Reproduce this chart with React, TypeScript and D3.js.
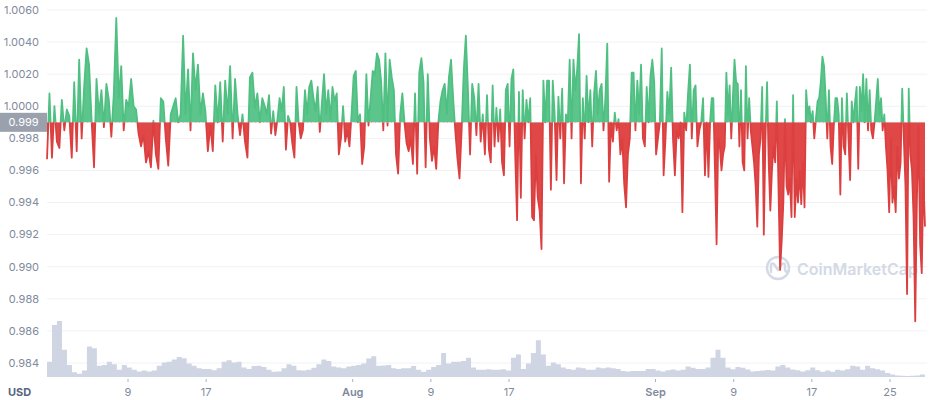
import React from "react";
import * as d3 from "d3";

// price offsets from 1.0000 USD, in units of 0.0001 (so -10 = 0.9990)
const julyA = [
  -33, 8, -32, 0, -22, -26, 4, -15, -2, -6,
  -32, 15, -28, 29, -20, 12, 36, 26, -8, -38,
  17, -5, 10, -13, 14, 4, -19, 8, 55, 5,
  25, -15, 4, 0, 17, 0, -2, -17, -25, -18,
  -35, -28, -38, -9, -30, -39, 5, 3, -20, -37,
  -5, 0, 5, -10, -5, 44, -5, 23, -15, 33,
  10, 26, -5, 8, -3, -28, -12, -28, 13, -10,
  15, -22, 16, -5, 25, -20, 17, -5, -18, -5,
  -22, -32, 18, 21, -1, 8, -10, 5,
];
const julyAug = [
  0, -5, 7, -17, -3, -18, -8, 5, -3, 12, -27, -6, -10, -23, -32, 12, -10, -20, -15, 10,
  -5, 12, 16, 5, -3, 12, -16, 2, 20, -5, 10, -8, 12, 3, 8, -30, -20, 0, -22, -15,
  -25, -5, 19, 22, -10, -5, -36, -25, 20, -12, 5, 22, 20, 33, 29, 15, -15, 33, -12, 29,
  18, 10, -30, -42, -5, 8, -10, -23, -28, -20, -36, 8, -42, 21, 30, 15, -38, 20, -20, -34,
  -25, -39, -10, 3, 10, 14, -5, 18, 29, 5, -15, -32, -45, -15, 22, 44, 10, -30, 14, 5,
  -18, 14, -22, -5, -30,
];
const augSep = [
  7, -27, -35, 13, -25, -1, -22, -2, -35, -43, 10, 14, -25, 17, 23, -30, -71, 9, -57, 10,
  -20, 4, -10, 5, -69, -71, -30, -57, -65, -89, 16, -10, 16, 16, -52, 16, -5, -46, 6, -20,
  11, -48, -5, -10, 29, -20, 29, 10, 23, 45, -48, 5, -20, 19, -10, 10, -25, 8, 22, -5,
  10, 14, -15, 5, 39, -47, -10, -22, -4, -15, -8, -30, -20, -48, -63, -30, -20, 21, 21, -15,
  16, -5, 26, -20, -25, 12, -10, 19, 29, 15, -30, -20, -10, 36, -43, -20, 9, -5, 24, -20,
  -43, -15, -20, -10, -66, -4, -15, 8, 26, -20, 10, 13, -25, -15, -10, 5, -43,
];
const september = [
  -10, -44, -10, 5, 5, -40, -86, -20, -25, -40, -30, -25, 21, -5, 13, -20, 5, 29, 15, 14,
  -25, 10, -35, -40, 25, -20, 5, -15, -25, -35, -50, -75, -30, -20, 12, -80, -20, 15, -35, -65,
  -40, -25, -35, 3, -50, -102, -84, -60, -8, -50, -55, -45, -69, 7, -69, -45, -60, -40, -61, -35,
  -63, 10, -5, 0, -10, -3, -20, -8, 3, 5, 15, 31, 25, 5, -20, 10, -25, -36, -12, 5,
  5, -5, -55, 5, -25, -30, 8, -20, -46, 3, -10, 2, 12, -39, 12, -3, 20, -10, 17, -15,
  10, -15, -20, -10, 3, 17, -5, 5, -15, -5, -25, -40, -66, -20, -60, -50, -66, -25, -45, -35,
  11, -20, -50, -117, 11, -30, -40, -70, -134, -60, -12, -86, -104, -45, -75,
];
const segments = [julyA, julyAug, augSep, september];
const segmentEdges = [
  new Date(2021, 5, 30, 17),
  new Date(2021, 6, 23, 0),
  new Date(2021, 7, 14, 18),
  new Date(2021, 8, 6, 6),
  new Date(2021, 8, 28, 14),
];

// 24h volume, billions USD (relative)
const volume = [
  0.95, 3.25, 3.5, 1.7, 0.75, 0.3, 0.2, 0.4, 1.9, 1.8, 0.7, 0.75, 0.95, 0.8, 0.45, 0.75, 0.6, 0.45, 0.35, 0.4,
  0.35, 0.4, 0.7, 0.9, 0.95, 1.1, 1.25, 1.17, 0.85, 0.7, 0.55, 0.5, 0.5, 0.42, 0.55, 0.95, 1.05, 0.9, 0.95, 0.6,
  0.5, 0.68, 0.7, 0.62, 0.45, 0.33, 0.35, 0.55, 0.8, 0.7, 0.42, 0.4, 0.45, 0.58, 0.8, 1.1, 1.0, 0.65, 0.6, 0.55,
  0.65, 0.7, 0.75, 0.85, 1.15, 1.3, 0.7, 0.72, 0.75, 0.55, 0.5, 0.55, 0.55, 0.68, 0.45, 0.33, 0.45, 0.62, 0.75, 1.5,
  0.85, 0.95, 0.95, 1.0, 1.2, 0.6, 0.45, 0.45, 0.48, 0.45, 0.45, 0.48, 0.4, 1.2, 1.4, 0.5, 0.85, 1.5, 2.3, 1.4,
  0.7, 0.9, 0.8, 0.6, 0.5, 0.45, 0.6, 0.55, 0.45, 0.45, 0.6, 0.55, 0.6, 0.55, 0.5, 0.38, 0.35, 0.38, 0.38, 0.38,
  0.5, 0.5, 0.4, 0.35, 0.42, 0.47, 0.4, 0.45, 0.65, 0.58, 0.5, 0.5, 0.6, 1.2, 1.7, 1.2, 0.6, 0.48, 0.62, 0.58,
  0.47, 0.35, 0.37, 0.4, 0.44, 0.4, 0.65, 0.75, 0.6, 0.47, 0.42, 0.35, 0.42, 0.6, 0.42, 0.33, 0.4, 0.33, 0.45, 0.4,
  0.48, 0.7, 0.65, 0.45, 0.7, 0.55, 0.48, 0.4, 0.25, 0.15, 0.1, 0.08, 0.06, 0.08, 0.1, 0.15, 0.2,
];

const yTicks = [1.006, 1.004, 1.002, 1.0, 0.998, 0.996, 0.994, 0.992, 0.99, 0.988, 0.986, 0.984];
const yLabels = ["1.0060", "1.0040", "1.0020", "1.0000", "0.998", "0.996", "0.994", "0.992", "0.990", "0.988", "0.986", "0.984"];
const xTicks = [
  new Date(2021, 6, 9), new Date(2021, 6, 17), new Date(2021, 7, 1),
  new Date(2021, 7, 9), new Date(2021, 7, 17), new Date(2021, 8, 1),
  new Date(2021, 8, 9), new Date(2021, 8, 17), new Date(2021, 8, 25),
];
const xLabels = ["9", "17", "Aug", "9", "17", "Sep", "9", "17", "25"];
const refPrice = 0.999;

type Pt = { t: Date; p: number };

const font = "Inter, 'Noto Sans', sans-serif";
const GREEN = "#5bc58c";
const RED = "#e04848";

export default function App() {
  const width = 938;
  const height = 400;
  const left = 47;
  const right = 925;

  const points: Pt[] = [];
  segments.forEach((arr, i) => {
    const a = +segmentEdges[i];
    const b = +segmentEdges[i + 1];
    const n = i === segments.length - 1 ? arr.length - 1 : arr.length;
    arr.forEach((v, k) => {
      points.push({ t: new Date(a + ((b - a) * k) / n), p: 1 + v / 10000 });
    });
  });

  const t0 = +segmentEdges[0];
  const t1 = +segmentEdges[segmentEdges.length - 1];
  const vol = volume.map((v, k) => ({
    t: new Date(t0 + ((t1 - t0) * k) / (volume.length - 1)),
    v,
  }));

  const x = d3.scaleTime().domain([segmentEdges[0], segmentEdges[4]]).range([left, right]);
  const y = d3.scaleLinear().domain([0.984, 1.006]).range([363, 10]);
  const yVol = d3.scaleLinear().domain([0, 4]).range([377, 313]);

  const baseY = y(refPrice);

  const area = d3
    .area<Pt>()
    .x((d) => x(d.t))
    .y0(baseY)
    .y1((d) => y(d.p));
  const line = d3
    .line<Pt>()
    .x((d) => x(d.t))
    .y((d) => y(d.p));
  const volArea = d3
    .area<{ t: Date; v: number }>()
    .x((d) => x(d.t))
    .y0(yVol(0))
    .y1((d) => yVol(d.v))
    .curve(d3.curveStepAfter);

  const areaD = area(points) ?? "";
  const lineD = line(points) ?? "";

  return (
    <div style={{ position: "absolute", left: 0, top: 0 }}>
      <svg width={width} height={height} style={{ display: "block", fontFamily: font }}>
        <defs>
          <clipPath id="above">
            <rect x={0} y={0} width={width} height={baseY} />
          </clipPath>
          <clipPath id="below">
            <rect x={0} y={baseY} width={width} height={height - baseY} />
          </clipPath>
        </defs>

        {yTicks.map((t, i) => (
          <line key={i} x1={left} x2={927} y1={y(t)} y2={y(t)} stroke="#eff2f5" strokeWidth={1} />
        ))}

        {/* watermark */}
        <g opacity={0.9}>
          <circle cx={778} cy={268} r={11} fill="none" stroke="#cfd6e4" strokeWidth={2.4} />
          <path
            d="M771,272 L771,266 Q771,262 774,264 L778,270 L782,264 Q785,262 785,266 L785,270 Q786,273 789,271"
            fill="none"
            stroke="#cfd6e4"
            strokeWidth={2.4}
            strokeLinecap="round"
            strokeLinejoin="round"
          />
          <text x={797} y={275} fontSize={16} fontWeight={600} fill="#cfd6e4">
            CoinMarketCap
          </text>
        </g>

        <path d={volArea(vol) ?? ""} fill="#cfd5e3" />

        <g clipPath="url(#above)">
          <path d={areaD} fill={GREEN} />
          <path d={lineD} fill="none" stroke="#4fbf82" strokeWidth={1.8} strokeLinejoin="round" />
        </g>
        <g clipPath="url(#below)">
          <path d={areaD} fill={RED} />
          <path d={lineD} fill="none" stroke="#dc3f3f" strokeWidth={1.8} strokeLinejoin="round" />
        </g>

        <line x1={left} x2={927} y1={baseY} y2={baseY} stroke="#a6b0c3" strokeWidth={1} strokeDasharray="1 3" opacity={0.7} />

        {yTicks.map((t, i) => (
          <text key={i} x={39} y={y(t)} dy="0.35em" textAnchor="end" fontSize={11} fill="#808a9d">
            {yLabels[i]}
          </text>
        ))}

        <rect x={0} y={baseY - 9.5} width={left} height={19} fill="#9aa1ad" />
        <text x={23.5} y={baseY} dy="0.36em" textAnchor="middle" fontSize={11} fill="#ffffff">
          {String(refPrice)}
        </text>

        {xTicks.map((t, i) => (
          <g key={i} transform={`translate(${x(t)},0)`}>
            <line y1={379} y2={382} stroke="#a6b0c3" />
            <text
              y={396}
              textAnchor="middle"
              fontSize={11}
              fontWeight={xLabels[i].length === 3 ? 600 : 400}
              fill="#808a9d"
            >
              {xLabels[i]}
            </text>
          </g>
        ))}

        <text x={8} y={396} fontSize={11} fontWeight={700} fill="#58667e">
          USD
        </text>
      </svg>
    </div>
  );
}
